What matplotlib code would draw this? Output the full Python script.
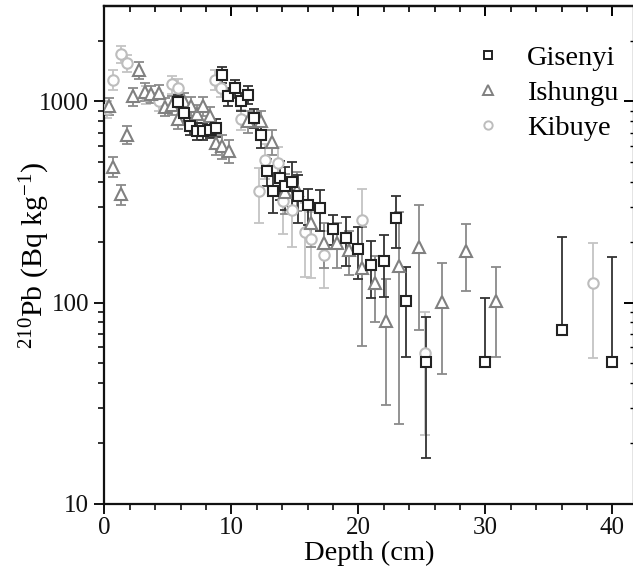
import numpy as np
import matplotlib
matplotlib.use("Agg")
import matplotlib.pyplot as plt
from matplotlib.ticker import MultipleLocator, LogLocator, NullFormatter, FixedLocator
from matplotlib.lines import Line2D

plt.rcParams['font.family'] = ['Liberation Serif', 'DejaVu Serif']
plt.rcParams['mathtext.fontset'] = 'custom'
plt.rcParams['mathtext.rm'] = 'Liberation Serif'
plt.rcParams['mathtext.it'] = 'Liberation Serif:italic'

# ---- data ----
gis_depth = [5.8, 6.3, 6.75, 7.3, 7.8, 8.3, 8.8, 9.3, 9.75, 10.3, 10.8, 11.3, 11.8,
             12.3, 12.8, 13.25, 13.8, 14.25, 14.75, 15.25, 16.0, 17.0, 18.0, 19.05,
             20.0, 21.0, 22.05, 23.0, 23.75, 25.3, 30.0, 36.0, 40.0]
gis_val = [990, 880, 755, 715, 710, 725, 740, 1360, 1060, 1160, 1000, 1080, 830,
           680, 450, 360, 415, 380, 400, 340, 305, 295, 233, 210,
           185, 154, 162, 264, 102, 51, 51, 73, 51]
gis_err = [90, 85, 75, 70, 70, 70, 75, 130, 110, 120, 100, 110, 90,
           90, 70, 80, 90, 90, 100, 90, 62, 68, 40, 58,
           54, 48, 55, 76, 48, 34, 55, 140, 118]

ish_depth = [0.4, 0.7, 1.3, 1.75, 2.25, 2.75, 3.2, 3.7, 4.3, 4.8, 5.3, 5.8, 6.3,
             6.8, 7.3, 7.8, 8.3, 8.8, 9.3, 9.8, 11.3, 12.3, 13.2, 14.2, 15.2,
             16.3, 17.3, 18.3, 19.3, 20.3, 21.3, 22.2, 23.2, 24.8, 26.6, 28.5, 30.8]
ish_val = [950, 475, 345, 685, 1060, 1430, 1120, 1090, 1100, 940, 960, 820, 1000,
           950, 870, 950, 850, 620, 600, 570, 800, 800, 630, 355, 365,
           250, 198, 198, 182, 149, 125, 81, 153, 189, 101, 180, 102]
ish_err = [90, 55, 40, 70, 110, 140, 110, 110, 110, 95, 100, 90, 100,
           100, 90, 100, 90, 80, 80, 75, 100, 100, 90, 80, 80,
           60, 50, 50, 45, 88, 45, 50, 128, 116, 57, 66, 48]

kib_depth = [0.25, 0.7, 1.3, 1.8, 3.3, 4.3, 5.3, 5.8, 8.7, 9.2, 10.8, 12.15, 12.65,
             13.7, 14.1, 14.76, 15.8, 16.3, 17.3, 20.27, 25.25, 38.5]
kib_val = [920, 1285, 1725, 1545, 1080, 1000, 1215, 1170, 1285, 1170, 815, 358, 514,
           495, 320, 290, 224, 208, 173, 259, 56, 126]
kib_err = [90, 150, 170, 150, 110, 100, 130, 120, 140, 120, 90, 110, 100,
           100, 100, 100, 90, 75, 55, 110, 34, 73]

series = [
    ("Gisenyi", gis_depth, gis_val, gis_err, 's', '#222222', '#333333', 6.5, 5.5),
    ("Ishungu", ish_depth, ish_val, ish_err, '^', '#808080', '#8a8a8a', 8.5, 7.0),
    ("Kibuye", kib_depth, kib_val, kib_err, 'o', '#bdbdbd', '#c4c4c4', 7.5, 6.0),
]

W, H = 633, 582
fig = plt.figure(figsize=(W / 100, H / 100), dpi=100)
ax_left, ax_right, ax_top, ax_bot = 104.3, 634.0, 6.0, 504.0
ax = fig.add_axes([ax_left / W, 1 - ax_bot / H, (ax_right - ax_left) / W, (ax_bot - ax_top) / H])

for name, d, v, e, mk, mc, ec, ms, lms in reversed(series):
    v = np.asarray(v, float)
    e = np.asarray(e, float)
    lo = np.where(e < v, e, 0.0)
    ax.errorbar(d, v, yerr=[lo, e], fmt='none', ecolor=ec, elinewidth=1.3,
                capsize=3.6, capthick=1.3, zorder=2)
    ax.plot(d, v, linestyle='none', marker=mk, markersize=ms, markerfacecolor='white',
            markeredgecolor=mc, markeredgewidth=1.5, zorder=3)

handles = []
for name, d, v, e, mk, mc, ec, ms, lms in series:
    handles.append(Line2D([], [], linestyle='none', marker=mk, markersize=lms,
                          markerfacecolor='white', markeredgecolor=mc, markeredgewidth=1.4,
                          label=name))

ax.set_yscale('log')
ax.set_xlim(0, 41.7)
ax.set_ylim(10, 2980)

ax.xaxis.set_major_locator(MultipleLocator(10))
ax.xaxis.set_minor_locator(MultipleLocator(2))
ax.yaxis.set_major_locator(FixedLocator([10, 100, 1000]))
ax.yaxis.set_minor_locator(LogLocator(base=10, subs=np.arange(2, 10), numticks=20))
ax.yaxis.set_minor_formatter(NullFormatter())
ax.set_yticklabels(['10', '100', '1000'])

for s in ax.spines.values():
    s.set_linewidth(1.6)
    s.set_color('#111111')

ax.tick_params(axis='both', which='major', direction='out', length=7, width=1.4,
               labelsize=18, colors='#111111')
ax.tick_params(axis='x', which='major', pad=2)
ax.tick_params(axis='y', which='major', pad=4)
ax.tick_params(axis='both', which='minor', direction='out', length=4, width=1.2, colors='#111111')

# inward ticks on top and right
axt = ax.secondary_xaxis('top')
axt.xaxis.set_major_locator(MultipleLocator(10))
axt.xaxis.set_minor_locator(MultipleLocator(2))
axt.tick_params(which='major', direction='in', length=7, width=1.4, labeltop=False)
axt.tick_params(which='minor', direction='in', length=4, width=1.2)
axt.spines['top'].set_linewidth(1.6)
axr = ax.secondary_yaxis('right')
axr.set_yscale('log')
axr.yaxis.set_major_locator(FixedLocator([10, 100, 1000]))
axr.yaxis.set_minor_locator(LogLocator(base=10, subs=np.arange(2, 10), numticks=20))
axr.yaxis.set_minor_formatter(NullFormatter())
axr.tick_params(which='major', direction='in', length=7, width=1.4, labelright=False)
axr.tick_params(which='minor', direction='in', length=3, width=1.0)

ax.set_xlabel('Depth (cm)', fontsize=20.5, labelpad=2)
ax.set_ylabel(r'$^{210}$Pb (Bq kg$^{-1}$)', fontsize=21.5, labelpad=-9)

ax_w = ax_right - ax_left
ax_h = ax_bot - ax_top
leg = ax.legend(handles=handles, loc='upper left',
                bbox_to_anchor=((474 - ax_left) / ax_w, (ax_bot - 45) / ax_h),
                borderaxespad=0, borderpad=0,
                frameon=False, fontsize=20.5, handletextpad=0.85, labelspacing=0.32,
                handlelength=1.0)

fig.savefig('out.png', dpi=100)
